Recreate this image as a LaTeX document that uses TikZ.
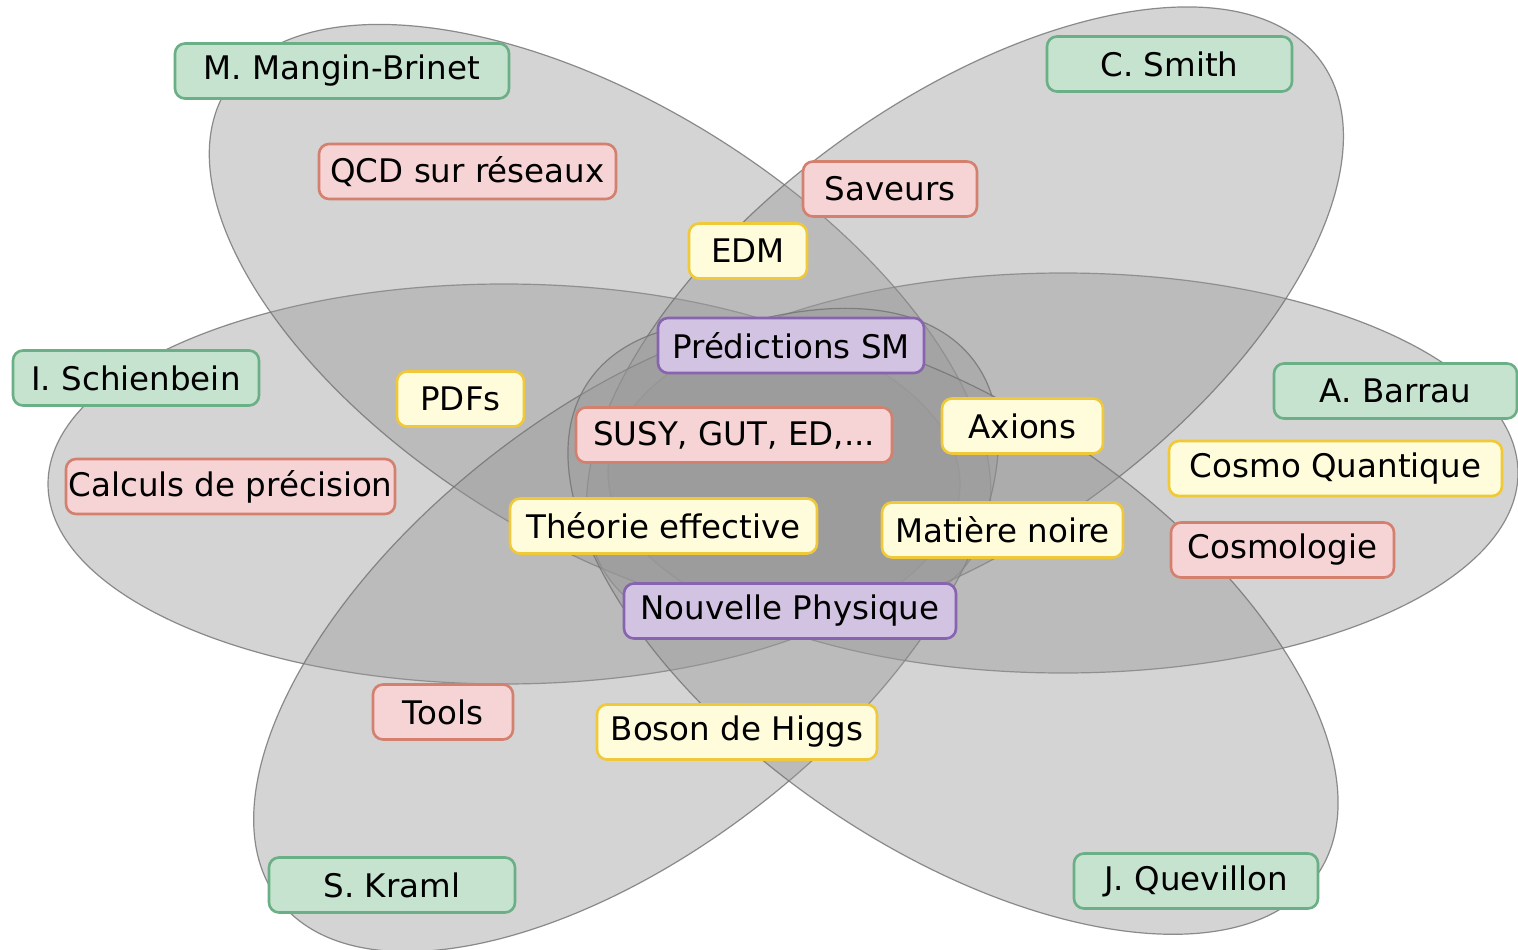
\documentclass[tikz,border=0pt]{standalone}
\usepackage{fontspec}
\setmainfont{DejaVu Sans}
\definecolor{namefill}{HTML}{C5E3CF}
\definecolor{nameline}{HTML}{6AAF85}
\definecolor{redfill}{HTML}{F6D3D5}
\definecolor{redline}{HTML}{D4806F}
\definecolor{yelfill}{HTML}{FFFCDC}
\definecolor{yelline}{HTML}{F0C93A}
\definecolor{purfill}{HTML}{D2C3E2}
\definecolor{purline}{HTML}{8763B0}
\tikzset{
	petal/.style={fill=black!40, fill opacity=0.42, draw=black!55, draw opacity=0.8, line width=1.2},
	tag/.style={rounded corners=10, line width=2.6, minimum height=55, inner sep=0, font=\fontsize{32.5}{38}\selectfont},
	namebox/.style={tag, fill=namefill, draw=nameline},
	redbox/.style={tag, fill=redfill, draw=redline},
	yelbox/.style={tag, fill=yelfill, draw=yelline},
	purbox/.style={tag, fill=purfill, draw=purline},
}

\begin{document}
\begin{tikzpicture}[x=1pt, y=-1pt]
			%%%%% START %%%%%
			
			\fill[white] (0, 0) rectangle (1518, 950);
			\useasboundingbox (0, 0) rectangle (1518, 950);
			
			% the six petals
			\draw[petal] (504, 484) ellipse [x radius=456, y radius=200];
			\draw[petal] (1063, 473) ellipse [x radius=455, y radius=200];
			\draw[petal, rotate around={-32:(600, 322)}] (600, 322) ellipse [x radius=440, y radius=218];
			\draw[petal, rotate around={36:(965, 320)}] (965, 320) ellipse [x radius=440, y radius=218];
			\draw[petal, rotate around={38:(626, 630)}] (626, 630) ellipse [x radius=440, y radius=220];
			\draw[petal, rotate around={-34:(953, 628)}] (953, 628) ellipse [x radius=440, y radius=220];
			
			% people
			\node[namebox, minimum width=334] (mangin) at (342, 71) {M. Mangin-Brinet};
			\node[namebox, minimum width=245] (smith) at (1169.5, 64) {C. Smith};
			\node[namebox, minimum width=246] (schienbein) at (136, 378) {I. Schienbein};
			\node[namebox, minimum width=243] (barrau) at (1395.5, 391) {A. Barrau};
			\node[namebox, minimum width=246] (kraml) at (392, 885) {S. Kraml};
			\node[namebox, minimum width=244] (quevillon) at (1196, 881) {J. Quevillon};
			
			% topics
			\node[redbox, minimum width=297] (qcd) at (467.5, 171.5) {QCD sur réseaux};
			\node[redbox, minimum width=174] (saveurs) at (890, 189) {Saveurs};
			\node[yelbox, minimum width=118] (edm) at (748, 251) {EDM};
			\node[purbox, minimum width=266] (predictions) at (791, 345.5) {Prédictions SM};
			\node[yelbox, minimum width=127] (pdfs) at (460.5, 399) {PDFs};
			\node[redbox, minimum width=316] (susy) at (734, 435) {SUSY, GUT, ED,...};
			\node[yelbox, minimum width=161] (axions) at (1022.5, 426) {Axions};
			\node[yelbox, minimum width=333] (cosmoq) at (1335.5, 468.5) {Cosmo Quantique};
			\node[redbox, minimum width=329] (calculs) at (230.5, 486.5) {Calculs de précision};
			\node[yelbox, minimum width=307] (theorie) at (663.5, 526) {Théorie effective};
			\node[yelbox, minimum width=241] (matiere) at (1002.5, 530) {Matière noire};
			\node[redbox, minimum width=223] (cosmologie) at (1282.5, 550) {Cosmologie};
			\node[purbox, minimum width=332] (nouvelle) at (790, 611) {Nouvelle Physique};
			\node[redbox, minimum width=140] (tools) at (443, 712) {Tools};
			\node[yelbox, minimum width=280] (higgs) at (737, 732) {Boson de Higgs};
			
			%%%%% END %%%%%
\end{tikzpicture}
\end{document}
